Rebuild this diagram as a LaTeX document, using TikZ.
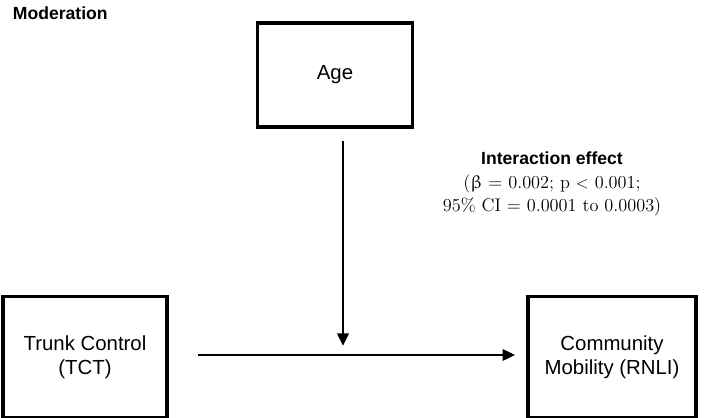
\documentclass[tikz,border=0pt]{standalone}
\usepackage{fontspec}
\setsansfont{Liberation Sans}
\usepackage{upgreek}
\usepackage{tikz}
\usetikzlibrary{arrows.meta}

\tikzset{
    varbox/.style={draw, line width=2.2pt, font=\sffamily\fontsize{14.5}{17}\selectfont, align=center, inner sep=0pt},
    patharrow/.style={line width=2pt, -{Triangle[length=9pt,width=8pt]}}
}

\begin{document}
\begin{tikzpicture}[x=0.025cm,y=-0.025cm]

    \useasboundingbox (0,0) rectangle (708,418);

    % title
    \node[anchor=west, font=\sffamily\bfseries\fontsize{12.5}{14}\selectfont] (title) at (8,13) {Moderation};

    % variables
    \node[varbox, minimum width=155*0.025cm, minimum height=104*0.025cm] (age) at (335,75) {Age};
    \node[varbox, minimum width=164*0.025cm, minimum height=121*0.025cm] (tct) at (85,357) {Trunk Control\\(TCT)};
    \node[varbox, minimum width=168*0.025cm, minimum height=121*0.025cm] (rnli) at (612,357) {Community\\Mobility (RNLI)};

    % paths
    \coordinate (mid) at (343,346);
    \draw[patharrow] (343,141) -- (mid);
    \draw[patharrow, shorten <=21pt, shorten >=8pt] (tct.east |- 0,355) -- (rnli.west |- 0,355);

    % effect label
    \node[align=center, inner sep=0pt, font=\fontsize{13}{16.5}\selectfont] (effect) at (552,184)
        {{\sffamily\bfseries\fontsize{12.5}{16.5}\selectfont Interaction effect}\\
         ($\upbeta$ = 0.002; p $<$ 0.001;\\
         95\% CI = 0.0001 to 0.0003)};

\end{tikzpicture}
\end{document}
